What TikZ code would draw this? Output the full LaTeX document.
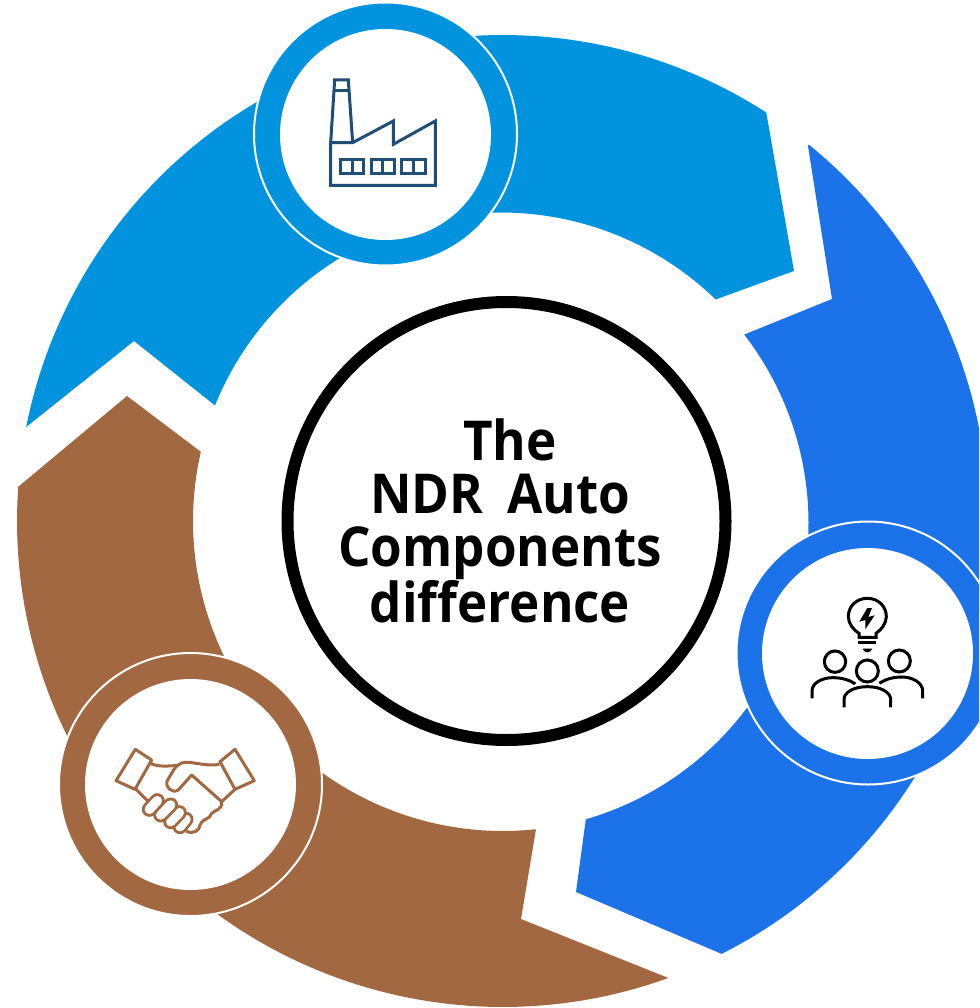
\documentclass[tikz,border=0pt]{standalone}
\usepackage{fontspec}
\setmainfont{Open Sans}[BoldFont={Open Sans Bold},BoldFeatures={FakeStretch=0.93,WordSpace=1.8},Ligatures=NoCommon]
\definecolor{topblue}{HTML}{0293DE}
\definecolor{rightblue}{HTML}{1C72E8}
\definecolor{brownseg}{HTML}{A26842}
\definecolor{navyicon}{HTML}{1F4E79}
\tikzset{
  badge/.style={circle,draw=white,line width=2pt,minimum size=263pt,inner sep=0pt},
  badgehole/.style={circle,fill=white,minimum size=211pt,inner sep=0pt},
  iconline/.style={line width=3pt,line join=miter,fill=none},
  hubtext/.style={align=center,font=\fontsize{55}{53}\selectfont\bfseries,inner sep=0pt}
}
\begin{document}
\begin{tikzpicture}[x=1pt,y=-1pt]
\useasboundingbox (0,0) rectangle (979,1008);
\clip (0,0) rectangle (979,1008);
\fill[white] (0,0) rectangle (979,1008);
% segments
\fill[topblue] (134,341) -- plot[domain=191.15:302.8,samples=90] ({503+486*cos(\x)},{521+486*sin(\x)}) -- (794,271) -- plot[domain=314.1:202,samples=90] ({501+308.5*cos(\x)},{521+308.5*sin(\x)}) -- cycle;
\fill[rightblue] (832,299) -- (808,146) -- plot[domain=309.1:423.2,samples=90] ({503+485*cos(\x)},{521+485*sin(\x)}) -- (576,892) -- plot[domain=73.85:-37.65,samples=90] ({500+308.5*cos(\x)},{523+308.5*sin(\x)}) -- cycle;
\fill[brownseg] (127,396) -- (18,487) -- plot[domain=184:70.1,samples=90] ({503+486*cos(\x)},{521+486*sin(\x)}) -- (521,919) -- (536,829) -- plot[domain=83.9:192.9,samples=90] ({503+310*cos(\x)},{521+310*sin(\x)}) -- cycle;
% badges
\node[badge,fill=topblue] (b1) at (385.5,134) {};
\node[badgehole] (h1) at (385.5,134.5) {};
\node[badge,fill=rightblue] (b2) at (868,653) {};
\node[badgehole] (h2) at (867.5,653.5) {};
\node[badge,fill=brownseg] (b3) at (190.5,784.5) {};
\node[badgehole] (h3) at (190.5,784.5) {};
% hub
\node[circle,draw=black,fill=white,line width=12pt,minimum size=438pt,inner sep=0pt] (hub) at (506.5,521) {};
\node[hubtext] (hubt) at (500,521) {\hspace*{20pt}The\\NDR Auto\\Components\\difference};
% factory icon
\begin{scope}[shift={(300,50)},x=0.3333pt,y=-0.3333pt,navyicon,iconline]
\draw (92,278) -- (92,406) -- (406,406) -- (406,213) -- (280,283) -- (280,213) -- (158,278) -- cycle;
\draw (92,278) -- (104,90) -- (145,90) -- (158,278);
\draw (102,122) -- (147,122);
\draw (122,328) rectangle (190,370) (156,328) -- (156,370);
\draw (214,328) rectangle (284,370) (249,328) -- (249,370);
\draw (306,328) rectangle (376,370) (341,328) -- (341,370);
\end{scope}
% people icon
\begin{scope}[shift={(790,580)},x=0.3333pt,y=-0.3333pt,black,iconline]
\draw (207,172) -- (207,160) .. controls (190,150) and (175,130) .. (175,110) .. controls (175,78) and (200,55) .. (232,55) .. controls (264,55) and (289,78) .. (289,110) .. controls (289,130) and (274,150) .. (258,160) -- (258,172) -- cycle;
\fill[draw=none] (232,84) -- (208,125) -- (226,120) -- (226,148) -- (254,106) -- (235,111) -- (246,84) -- cycle;
\draw (205,188) -- (259,188);
\fill[draw=none] (218,206) -- (247,206) .. controls (245,213) and (238,217) .. (232,217) .. controls (226,217) and (220,213) .. (218,206) -- cycle;
\draw (135,245) circle[radius=10.7pt];
\draw (328,243) circle[radius=11pt];
\draw (232,273) circle[radius=11pt];
\draw (66,355) -- (66,332) .. controls (66,310) and (95,293) .. (128,293) .. controls (155,293) and (180,300) .. (196,312);
\draw (268,310) .. controls (285,298) and (310,291) .. (335,291) .. controls (370,291) and (398,310) .. (398,332) -- (398,355);
\draw (162,382) -- (162,358) .. controls (162,338) and (190,320) .. (232,320) .. controls (274,320) and (302,338) .. (302,358) -- (302,382);
\end{scope}
% handshake icon
\begin{scope}[shift={(100,730)},x=0.3333pt,y=-0.3333pt,brownseg,iconline]
\draw[line join=round] (106,58) -- (155,90) -- (105,178) -- (48,152) -- cycle;
\draw[line join=round] (405,58) -- (360,95) -- (405,178) -- (463,152) -- cycle;
\draw (108,178) -- (145,215);
\draw (152,100) .. controls (175,112) and (205,108) .. (235,106);
\draw[line join=round] (358,103) .. controls (320,110) and (285,96) .. (255,97) .. controls (240,98) and (230,108) .. (222,118) -- (203,150) .. controls (192,170) and (215,192) .. (235,180) -- (275,135) -- (365,215) -- (405,178);
\draw[line join=round] (365,215) .. controls (368,240) and (345,240) .. (335,250) .. controls (330,270) and (310,262) .. (300,285) .. controls (300,300) and (280,315) .. (258,303);
\foreach \ax/\ay/\bx/\by in {240/290/258/268, 212/275/238/248, 182/255/212/225, 148/238/172/212}{
  \draw[line width=15pt,line cap=round] (\ax,\ay) -- (\bx,\by);
  \draw[white,line width=9.5pt,line cap=round] (\ax,\ay) -- (\bx,\by);
}
\end{scope}
\end{tikzpicture}
\end{document}
